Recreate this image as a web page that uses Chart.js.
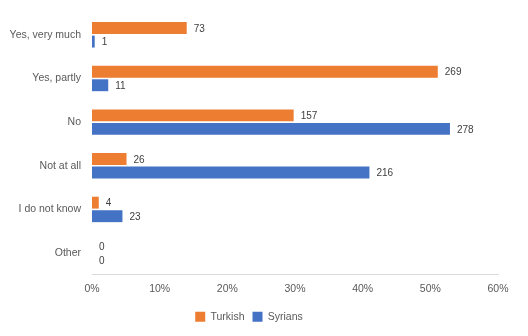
<!DOCTYPE html>
<html>
<head>
<meta charset="utf-8">
<script src="https://cdn.jsdelivr.net/npm/chart.js"></script>
<style>
  html, body { margin: 0; padding: 0; background: #fff; }
  #wrap { width: 528px; height: 336px; }
</style>
</head>
<body>
<div id="wrap"><canvas id="bars"></canvas></div>
<script>
// answers, shown top to bottom
const categories = ['Yes, very much', 'Yes, partly', 'No', 'Not at all', 'I do not know', 'Other']
// counts printed next to the bars
const turkishCounts = [73, 269, 157, 26, 4, 0]
const syrianCounts = [1, 11, 278, 216, 23, 0]
// bar lengths in percent
const turkishPct = [14.0, 51.1, 29.8, 5.1, 1.0, 0]
const syrianPct = [0.4, 2.4, 52.9, 41.0, 4.5, 0]
const xTicks = [0, 10, 20, 30, 40, 50, 60]

const fontName = "'Liberation Sans', Arial, sans-serif"

// write the count at the end of every bar
const countLabels = {
    id: 'countLabels',
    afterDatasetsDraw(chart) {
        const ctx = chart.ctx
        ctx.save()
        ctx.font = '10px ' + fontName
        ctx.fillStyle = '#404040'
        ctx.textBaseline = 'middle'
        ctx.textAlign = 'left'
        chart.data.datasets.forEach((ds, i) => {
            const meta = chart.getDatasetMeta(i)
            meta.data.forEach((bar, j) => {
                ctx.fillText(ds.counts[j], bar.x + 7, bar.y + 1)
            })
        })
        ctx.restore()
    }
}

let barChart = new Chart(document.getElementById('bars'), {
    type: 'bar',
    data: {
        labels: categories,
        datasets: [{
            label: 'Turkish',
            data: turkishPct,
            counts: turkishCounts,
            backgroundColor: '#ed7d31',
            barPercentage: 0.88,
            categoryPercentage: 0.62
        }, {
            label: 'Syrians',
            data: syrianPct,
            counts: syrianCounts,
            backgroundColor: '#4472c4',
            barPercentage: 0.88,
            categoryPercentage: 0.62
        }]
    },
    options: {
        indexAxis: 'y',
        responsive: true,
        maintainAspectRatio: false,
        animation: false,
        layout: { padding: { top: 13, right: 30, left: 0, bottom: 4 } },
        plugins: {
            tooltip: { enabled: false },
            legend: {
                position: 'bottom',
                labels: {
                    boxWidth: 10,
                    boxHeight: 10,
                    padding: 8,
                    color: '#595959',
                    font: { family: fontName, size: 10.5 }
                }
            }
        },
        scales: {
            x: {
                min: 0,
                max: 60,
                afterBuildTicks: (scale) => { scale.ticks = xTicks.map(v => ({ value: v })) },
                grid: { display: false, drawTicks: false },
                border: { display: true, color: '#d9d9d9' },
                ticks: {
                    color: '#595959',
                    padding: 8,
                    font: { family: fontName, size: 10.5 },
                    callback: (v) => v + '%'
                }
            },
            y: {
                grid: { display: false, drawTicks: false },
                border: { display: false },
                afterFit: (scale) => {
                    scale.width = 92
                    scale.paddingTop = 0
                    scale.paddingBottom = 0
                },
                ticks: {
                    color: '#595959',
                    padding: 11,
                    font: { family: fontName, size: 10.5 }
                }
            }
        }
    },
    plugins: [countLabels]
})
</script>
</body>
</html>
